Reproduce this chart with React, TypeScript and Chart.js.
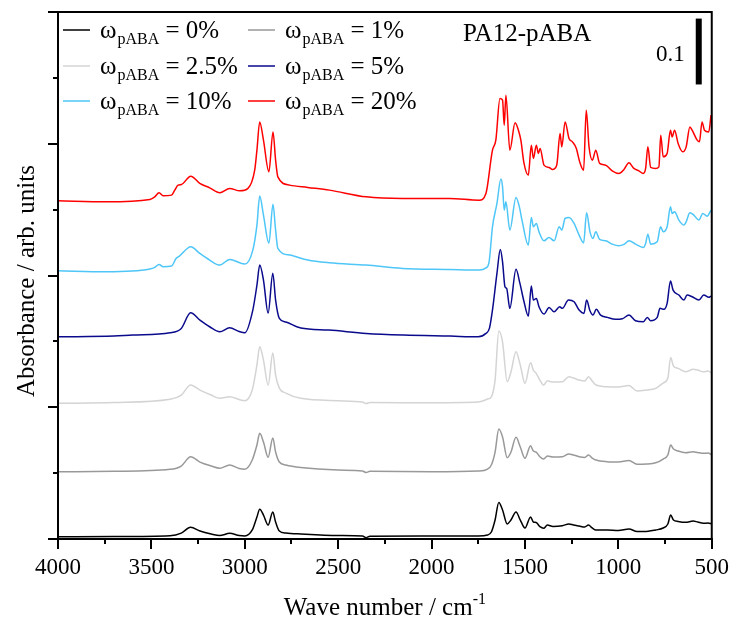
import React, { useEffect, useRef } from 'react';
import { Chart, registerables } from 'chart.js';

Chart.register(...registerables);

// ---- data (wave number in cm^-1, absorbance in arb. units, offset as plotted) ----
const wn0 = [4000, 3700, 3400, 3340, 3290, 3240, 3180, 3134, 3081, 3030, 3000, 2960, 2935, 2920, 2900, 2875, 2850, 2835, 2815, 2780, 2700, 2500, 2370, 2350, 2330, 2000, 1750, 1700, 1680, 1660, 1640, 1620, 1595, 1575, 1548, 1525, 1500, 1470, 1455, 1440, 1420, 1400, 1380, 1350, 1300, 1265, 1240, 1210, 1180, 1160, 1140, 1120, 1060, 1000, 943, 900, 850, 800, 760, 735, 720, 705, 680, 640, 600, 575, 545, 520, 500];
const ab0 = [0.0035, 0.0038, 0.005, 0.009, 0.0178, 0.0121, 0.0076, 0.0053, 0.0086, 0.0053, 0.0046, 0.0137, 0.0334, 0.0451, 0.0364, 0.0212, 0.041, 0.0258, 0.0121, 0.0091, 0.0076, 0.0053, 0.0046, 0.002, 0.0042, 0.0046, 0.0046, 0.0061, 0.0106, 0.0288, 0.0554, 0.044, 0.0228, 0.0288, 0.041, 0.0288, 0.0167, 0.0334, 0.0258, 0.025, 0.0187, 0.0162, 0.0212, 0.019, 0.0202, 0.0228, 0.0212, 0.0197, 0.0182, 0.0212, 0.0167, 0.0137, 0.0137, 0.0129, 0.0152, 0.0114, 0.0114, 0.0137, 0.0167, 0.0228, 0.0364, 0.0288, 0.0266, 0.0253, 0.0273, 0.0258, 0.0238, 0.0243, 0.0228];

const wn1 = wn0;
const ab1 = [0.1021, 0.1027, 0.1058, 0.1108, 0.1249, 0.1168, 0.1108, 0.1073, 0.1123, 0.107, 0.1058, 0.1199, 0.1426, 0.1604, 0.1472, 0.124, 0.1533, 0.132, 0.1168, 0.1123, 0.1085, 0.1047, 0.1032, 0.1009, 0.1029, 0.1021, 0.1032, 0.1062, 0.1123, 0.132, 0.1669, 0.1548, 0.1234, 0.132, 0.1543, 0.1396, 0.1225, 0.1416, 0.1335, 0.132, 0.1249, 0.1214, 0.1259, 0.1244, 0.1249, 0.129, 0.1275, 0.1249, 0.1237, 0.1275, 0.1229, 0.1199, 0.1173, 0.1168, 0.1191, 0.1134, 0.1138, 0.1158, 0.1214, 0.1275, 0.1426, 0.1366, 0.1335, 0.131, 0.1325, 0.1313, 0.13, 0.1305, 0.1275];

const wn25 = wn0;
const ab25 = [0.2059, 0.2071, 0.212, 0.2185, 0.2337, 0.2261, 0.2185, 0.2135, 0.2159, 0.2117, 0.2099, 0.2261, 0.264, 0.2918, 0.2716, 0.2337, 0.2822, 0.2489, 0.2291, 0.2215, 0.2135, 0.2099, 0.2079, 0.2056, 0.2071, 0.2068, 0.2079, 0.2124, 0.2159, 0.2413, 0.3156, 0.2989, 0.2387, 0.2534, 0.2842, 0.264, 0.2363, 0.2675, 0.2564, 0.2514, 0.2413, 0.2337, 0.2402, 0.2382, 0.2387, 0.2463, 0.2443, 0.2413, 0.2398, 0.2463, 0.2398, 0.2337, 0.2311, 0.2306, 0.2329, 0.2246, 0.2261, 0.2287, 0.2367, 0.2443, 0.2757, 0.2625, 0.259, 0.2539, 0.2575, 0.2564, 0.2539, 0.2549, 0.2514];

const wn5 = [4000, 3700, 3600, 3400, 3340, 3290, 3240, 3188, 3134, 3081, 3030, 3000, 2957, 2935, 2920, 2900, 2875, 2850, 2835, 2815, 2780, 2700, 2550, 2350, 2150, 1900, 1750, 1709, 1690, 1674, 1650, 1632, 1620, 1607, 1598, 1581, 1548, 1527, 1505, 1482, 1466, 1455, 1439, 1425, 1398, 1371, 1344, 1314, 1300, 1267, 1237, 1210, 1184, 1170, 1152, 1136, 1118, 1095, 1059, 1015, 979, 943, 908, 867, 845, 827, 792, 777, 756, 739, 721, 707, 676, 649, 632, 605, 569, 543, 516, 504];
const ab5 = [0.307, 0.308, 0.3096, 0.313, 0.3197, 0.3434, 0.3323, 0.3222, 0.3146, 0.3206, 0.3149, 0.313, 0.3475, 0.3854, 0.4158, 0.393, 0.3429, 0.4036, 0.3627, 0.3349, 0.3293, 0.3202, 0.3171, 0.3121, 0.3096, 0.308, 0.307, 0.3121, 0.3202, 0.3475, 0.4032, 0.4396, 0.4208, 0.3829, 0.3804, 0.3501, 0.4093, 0.388, 0.3601, 0.3384, 0.3839, 0.3627, 0.3652, 0.3525, 0.3414, 0.3516, 0.3449, 0.3525, 0.3501, 0.3627, 0.3601, 0.3475, 0.3425, 0.3627, 0.3464, 0.3399, 0.3486, 0.3399, 0.3364, 0.3334, 0.3343, 0.3399, 0.3313, 0.3297, 0.3364, 0.3313, 0.3364, 0.3501, 0.3486, 0.3577, 0.3915, 0.3778, 0.3703, 0.3627, 0.3703, 0.3677, 0.3627, 0.3703, 0.3668, 0.3687];

const wn10 = [4000, 3740, 3508, 3482, 3459, 3437, 3392, 3368, 3350, 3289, 3241, 3188, 3134, 3081, 3000, 2957, 2935, 2920, 2900, 2871, 2849, 2835, 2823, 2760, 2663, 2547, 2350, 2156, 1905, 1745, 1709, 1692, 1674, 1650, 1629, 1620, 1611, 1602, 1581, 1548, 1530, 1516, 1482, 1466, 1455, 1439, 1425, 1398, 1371, 1344, 1317, 1303, 1285, 1264, 1237, 1210, 1186, 1170, 1152, 1136, 1121, 1100, 1068, 1033, 997, 970, 943, 908, 867, 854, 842, 827, 792, 774, 760, 739, 721, 712, 699, 676, 649, 637, 617, 596, 569, 548, 525, 504];
const ab10 = [0.4071, 0.4056, 0.4097, 0.4123, 0.4168, 0.4132, 0.4143, 0.4259, 0.4294, 0.4436, 0.4335, 0.4234, 0.4158, 0.4244, 0.4173, 0.4385, 0.4765, 0.5205, 0.4917, 0.4492, 0.5083, 0.4689, 0.4411, 0.431, 0.4234, 0.4193, 0.4158, 0.4108, 0.4092, 0.4082, 0.4115, 0.4208, 0.4739, 0.5094, 0.5463, 0.5346, 0.4992, 0.5118, 0.4689, 0.5185, 0.5042, 0.4841, 0.4461, 0.4882, 0.4739, 0.4791, 0.4663, 0.4526, 0.4578, 0.4526, 0.4739, 0.4689, 0.4866, 0.4882, 0.4791, 0.4613, 0.4496, 0.4951, 0.4663, 0.4563, 0.4663, 0.4548, 0.4526, 0.4476, 0.4451, 0.4472, 0.4526, 0.4476, 0.4426, 0.4487, 0.4628, 0.4476, 0.4511, 0.4739, 0.4663, 0.4739, 0.5042, 0.4942, 0.4967, 0.4841, 0.4765, 0.4815, 0.4951, 0.4917, 0.4841, 0.4942, 0.4901, 0.4992];

const wn20 = [4000, 3740, 3508, 3482, 3459, 3437, 3392, 3375, 3357, 3339, 3289, 3241, 3188, 3134, 3081, 3027, 2983, 2947, 2935, 2920, 2900, 2871, 2849, 2835, 2823, 2760, 2663, 2547, 2350, 2156, 1905, 1745, 1709, 1674, 1656, 1634, 1620, 1611, 1602, 1581, 1553, 1535, 1522, 1505, 1482, 1466, 1455, 1439, 1428, 1419, 1398, 1371, 1353, 1330, 1312, 1303, 1285, 1264, 1246, 1225, 1207, 1186, 1172, 1157, 1139, 1121, 1100, 1068, 1033, 997, 970, 943, 917, 890, 867, 854, 842, 827, 801, 783, 773, 760, 739, 721, 712, 699, 680, 655, 637, 617, 605, 578, 566, 552, 539, 516, 504];
const ab20 = [0.5134, 0.5118, 0.5155, 0.5194, 0.5255, 0.5209, 0.522, 0.5296, 0.5372, 0.5382, 0.5508, 0.5398, 0.5331, 0.5255, 0.5322, 0.5285, 0.5322, 0.5599, 0.5903, 0.6332, 0.6055, 0.5574, 0.618, 0.5751, 0.5498, 0.5372, 0.5337, 0.5296, 0.5194, 0.517, 0.517, 0.5144, 0.5246, 0.5903, 0.6055, 0.6687, 0.6662, 0.6282, 0.6737, 0.5903, 0.6317, 0.6206, 0.6055, 0.5701, 0.5524, 0.5979, 0.5777, 0.5979, 0.5853, 0.5929, 0.5675, 0.564, 0.561, 0.5675, 0.6156, 0.5953, 0.6332, 0.608, 0.6029, 0.5929, 0.5725, 0.5599, 0.651, 0.5953, 0.5751, 0.5903, 0.5701, 0.5675, 0.5589, 0.5549, 0.561, 0.571, 0.5625, 0.5589, 0.5549, 0.5625, 0.5953, 0.564, 0.5625, 0.5649, 0.613, 0.5801, 0.5853, 0.6206, 0.6105, 0.6206, 0.6005, 0.5877, 0.5953, 0.6256, 0.6206, 0.6055, 0.6029, 0.6332, 0.6206, 0.618, 0.6434];

const seriesWn = [wn0, wn1, wn25, wn5, wn10, wn20];
const seriesAb = [ab0, ab1, ab25, ab5, ab10, ab20];
const seriesLabels = ['0%', '1%', '2.5%', '5%', '10%', '20%'];
const seriesColors = ['#000000', '#999999', '#d4d4d4', '#0a0a8c', '#4ec6f7', '#ff0000'];

const xMin = 500;
const xMax = 4000;
const xStep = 500;
const xMinorTicks = [3750, 3250, 2750, 2250, 1750, 1250, 750];
const yMin = 0;
const yMax = 0.8;
const yStep = 0.2;
const yMinorTicks = [0.1, 0.3, 0.5, 0.7];
const scaleBarTop = 0.79;
const scaleBarSize = 0.1;
const scaleBarLabel = '0.1';
const sampleTitle = 'PA12-pABA';
const xTitle = 'Wave number / cm';
const xTitleSup = '-1';
const yTitle = 'Absorbance / arb. units';
const symbol = 'ω';
const symbolSub = 'pABA';

const SERIF = '"Liberation Serif", "Times New Roman", serif';

const decorPlugin = {
  id: 'decor',
  afterDraw(chart: any) {
    const { ctx, chartArea: ca, scales } = chart;
    const xs = scales.x;
    const ys = scales.y;
    ctx.save();
    ctx.strokeStyle = '#000';
    ctx.fillStyle = '#000';
    ctx.lineWidth = 2;
    ctx.strokeRect(ca.left, ca.top, ca.right - ca.left, ca.bottom - ca.top);
    ctx.beginPath();
    xMinorTicks.forEach((v) => {
      const px = Math.round(xs.getPixelForValue(v));
      ctx.moveTo(px, ca.bottom);
      ctx.lineTo(px, ca.bottom + 5);
    });
    yMinorTicks.forEach((v) => {
      const py = Math.round(ys.getPixelForValue(v));
      ctx.moveTo(ca.left - 5, py);
      ctx.lineTo(ca.left, py);
    });
    ctx.stroke();

    // scale bar
    const yTop = ys.getPixelForValue(scaleBarTop);
    const yBot = ys.getPixelForValue(scaleBarTop - scaleBarSize);
    ctx.fillRect(ca.right - 16, yTop, 6, yBot - yTop);
    ctx.font = `23px ${SERIF}`;
    ctx.textAlign = 'right';
    ctx.textBaseline = 'alphabetic';
    ctx.fillText(scaleBarLabel, ca.right - 27, 61);

    // sample title
    ctx.font = `25px ${SERIF}`;
    ctx.textAlign = 'left';
    ctx.fillText(sampleTitle, 463, 41);

    // legend
    const cols = [ca.left + 5, ca.left + 190];
    const rows = [30, 66, 101];
    seriesLabels.forEach((lab, i) => {
      const cx = cols[i % 2];
      const ry = rows[Math.floor(i / 2)];
      ctx.strokeStyle = seriesColors[i];
      ctx.lineWidth = 1.5;
      ctx.beginPath();
      ctx.moveTo(cx, ry);
      ctx.lineTo(cx + 27, ry);
      ctx.stroke();
      let tx = cx + 37;
      ctx.fillStyle = '#000';
      ctx.font = `25px ${SERIF}`;
      ctx.fillText(symbol, tx, ry + 8);
      tx += ctx.measureText(symbol).width + 1;
      ctx.font = `16px ${SERIF}`;
      ctx.fillText(symbolSub, tx, ry + 14);
      tx += ctx.measureText(symbolSub).width;
      ctx.font = `25px ${SERIF}`;
      ctx.fillText(' = ' + lab, tx, ry + 8);
    });

    // axis titles
    ctx.fillStyle = '#000';
    ctx.font = `25px ${SERIF}`;
    const w1 = ctx.measureText(xTitle).width;
    ctx.font = `16px ${SERIF}`;
    const w2 = ctx.measureText(xTitleSup).width;
    const start = (ca.left + ca.right) / 2 - (w1 + w2) / 2;
    ctx.textAlign = 'left';
    ctx.font = `25px ${SERIF}`;
    ctx.fillText(xTitle, start, 615);
    ctx.font = `16px ${SERIF}`;
    ctx.fillText(xTitleSup, start + w1, 604);

    ctx.save();
    ctx.translate(27, 281);
    ctx.rotate(-Math.PI / 2);
    ctx.font = `25px ${SERIF}`;
    ctx.textAlign = 'center';
    ctx.textBaseline = 'middle';
    ctx.fillText(yTitle, 0, 0);
    ctx.restore();

    ctx.restore();
  },
};

export default function App() {
  const ref = useRef<HTMLCanvasElement | null>(null);
  useEffect(() => {
    document.body.style.margin = '0';
    const canvas = ref.current;
    if (!canvas) return;
    const datasets = seriesAb.map((ab, i) => ({
      label: seriesLabels[i],
      data: ab.map((v, j) => ({ x: seriesWn[i][j], y: v })),
      borderColor: seriesColors[i],
      backgroundColor: seriesColors[i],
      borderWidth: 1.5,
      pointRadius: 0,
      cubicInterpolationMode: 'monotone' as const,
      fill: false,
    }));
    const chart = new Chart(canvas, {
      type: 'line',
      data: { datasets },
      plugins: [decorPlugin],
      options: {
        responsive: false,
        animation: false,
        layout: { padding: { top: 12, right: 21, left: 0, bottom: 0 } },
        plugins: { legend: { display: false }, tooltip: { enabled: false } },
        scales: {
          x: {
            type: 'linear',
            reverse: true,
            min: xMin,
            max: xMax,
            afterFit: (s: any) => { s.height = 84; },
            ticks: {
              stepSize: xStep,
              color: '#000',
              padding: 5,
              maxRotation: 0,
              font: { family: SERIF, size: 23 },
              callback: (v: any) => String(v),
            },
            grid: { drawOnChartArea: false, drawTicks: true, tickLength: 10, color: '#000', lineWidth: 2 },
            border: { display: true, color: '#000', width: 2 },
          },
          y: {
            type: 'linear',
            min: yMin,
            max: yMax,
            afterFit: (s: any) => { s.width = 58; },
            ticks: { stepSize: yStep, display: false },
            grid: { drawOnChartArea: false, drawTicks: true, tickLength: 10, color: '#000', lineWidth: 2 },
            border: { display: true, color: '#000', width: 2 },
          },
        },
      },
    });
    return () => chart.destroy();
  }, []);
  return <canvas ref={ref} width={734} height={623} style={{ display: 'block' }} />;
}
